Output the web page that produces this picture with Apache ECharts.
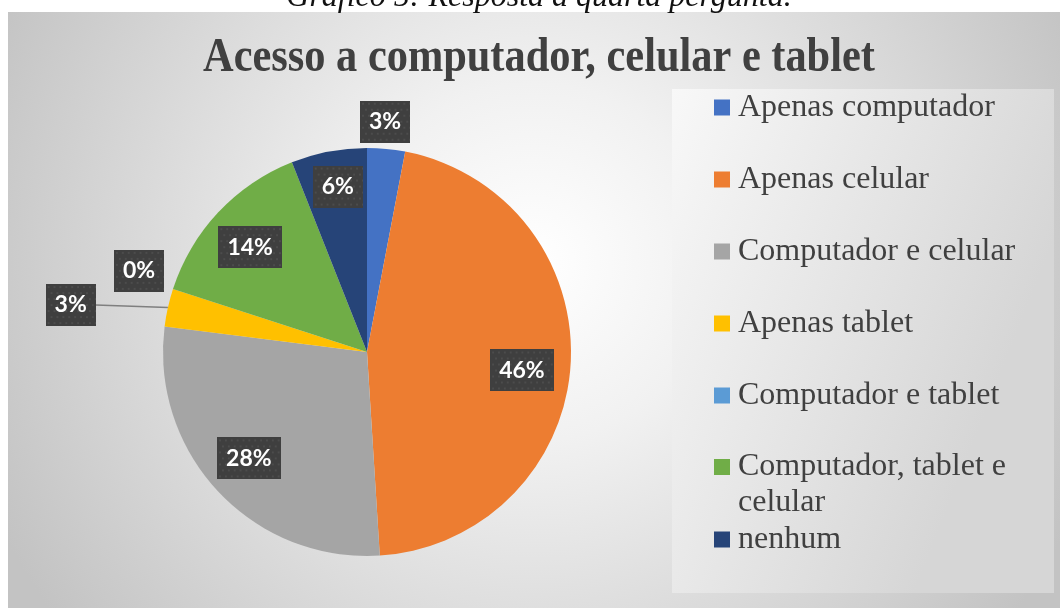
<!DOCTYPE html>
<html>
<head>
<meta charset="utf-8">
<script src="https://cdn.jsdelivr.net/npm/echarts@6/dist/echarts.min.js"></script>
<style>
  html, body { margin: 0; padding: 0; background: #fff; }
  #chart { width: 1060px; height: 609px; }
</style>
</head>
<body>
<div id="chart"></div>
<script>
// dados do gráfico
const names = ['Apenas computador', 'Apenas celular', 'Computador e celular', 'Apenas tablet',
  'Computador e tablet', 'Computador, tablet e celular', 'nenhum'];
const values = [3, 46, 28, 3, 0, 14, 6];
const colors = ['#4472C4', '#ED7D31', '#A5A5A5', '#FFC000', '#5B9BD5', '#70AD47', '#264478'];

// geometria da pizza
const CX = 367, CY = 352, R = 204;
// posição dos rótulos (distância do centro e pequeno desvio angular)
const labelDist = [231, 156, 159, 300, 242, 157, 168];
const labelTurn = [-0.9, 3.2, 1.2, -3.6, 1.6, -1.3, 0.8];

// ângulo médio de cada fatia (graus, sentido horário a partir do topo)
const total = values.reduce((a, b) => a + b, 0);
let acc = 0;
const mids = values.map(v => { const m = (acc + v / 2) / total * 360; acc += v; return m; });

// fundo pontilhado das caixas de rótulo
const makeDots = (w, h) => {
  const c = document.createElement('canvas');
  c.width = w; c.height = h;
  const ctx = c.getContext('2d');
  ctx.fillStyle = '#3f3f3f';
  ctx.fillRect(0, 0, w, h);
  ctx.fillStyle = '#4c4c4c';
  for (let y = 2, row = 0; y < h; y += 6, row++) {
    for (let x = (row % 2 ? 5 : 2); x < w; x += 6) {
      ctx.fillRect(x, y, 2, 2);
    }
  }
  return c;
};
const dotsNarrow = makeDots(51, 42);
const dotsWide = makeDots(65, 42);

const pieData = names.map((n, i) => ({
  name: n,
  value: values[i],
  itemStyle: { color: colors[i] },
  label: { backgroundColor: { image: String(values[i]).length > 1 ? dotsWide : dotsNarrow } },
  labelLine: { show: i === 3 }
}));

const legendFont = {
  fontFamily: 'Liberation Serif',
  fontSize: 32,
  color: '#404040',
  lineHeight: 36,
  padding: [0, 0, 0, 3]
};

const legendBase = {
  orient: 'vertical',
  left: 714,
  padding: 0,
  itemWidth: 16,
  itemHeight: 16,
  icon: 'rect',
  selectedMode: false,
  textStyle: legendFont
};

let chart = echarts.init(document.getElementById('chart'));

let option = {
  animation: false,
  backgroundColor: '#ffffff',
  graphic: [
    {
      type: 'rect',
      shape: { x: 8, y: 12, width: 1052, height: 596 },
      style: {
        fill: new echarts.graphic.RadialGradient(0.5, 0.42, 1.0, [
          { offset: 0, color: '#ffffff' },
          { offset: 0.3, color: '#f1f1f1' },
          { offset: 1, color: '#c3c3c3' }
        ])
      }
    },
    {
      type: 'rect',
      shape: { x: 672, y: 89, width: 382, height: 504 },
      style: {
        fill: new echarts.graphic.LinearGradient(0, 0, 1, 0.3, [
          { offset: 0, color: '#f8f8f8' },
          { offset: 1, color: '#d6d6d6' }
        ])
      }
    },
    {
      type: 'text',
      x: 539,
      y: -2,
      style: {
        text: 'Gráfico 5: Resposta à quarta pergunta.',
        font: 'italic 32px "Liberation Serif"',
        fill: '#111111',
        align: 'center',
        verticalAlign: 'middle'
      }
    },
    {
      type: 'text',
      x: 539,
      y: 58.5,
      scaleX: 0.865,
      style: {
        text: 'Acesso a computador, celular e tablet',
        font: 'bold 49px "Liberation Serif"',
        fill: '#404040',
        align: 'center',
        verticalAlign: 'middle'
      }
    }
  ],
  legend: [
    Object.assign({}, legendBase, {
      data: names.slice(0, 5),
      top: 89.5,
      itemGap: 36
    }),
    Object.assign({}, legendBase, {
      data: [names[5]],
      top: 449,
      itemHeight: 52,
      // quadrado alinhado com a primeira linha do texto
      icon: 'path://M0,0H16V16H0Z M0,51.99H0.01V52H0Z',
      formatter: () => 'Computador, tablet e\ncelular'
    }),
    Object.assign({}, legendBase, {
      data: [names[6]],
      top: 521.5
    })
  ],
  series: [
    {
      name: 'Acesso',
      type: 'pie',
      center: [CX, CY],
      radius: R,
      startAngle: 90,
      clockwise: true,
      avoidLabelOverlap: false,
      emphasis: { disabled: true },
      itemStyle: { borderWidth: 0 },
      label: {
        show: true,
        position: 'outside',
        formatter: '{c}%',
        color: '#ffffff',
        fontFamily: 'Lato',
        fontWeight: 'bold',
        fontSize: 23,
        lineHeight: 24,
        padding: [9, 9],
        shadowColor: 'rgba(0,0,0,0.45)',
        shadowBlur: 5,
        shadowOffsetX: 2,
        shadowOffsetY: 2
      },
      labelLine: {
        length: 10,
        length2: 10,
        lineStyle: { color: '#7f7f7f', width: 1.6 }
      },
      labelLayout: function (p) {
        const i = p.dataIndex;
        const a = (mids[i] + labelTurn[i]) * Math.PI / 180;
        const d = labelDist[i];
        const x = CX + Math.sin(a) * d;
        const y = CY - Math.cos(a) * d;
        const res = { x: x, y: y, align: 'center', verticalAlign: 'middle' };
        if (i === 3) {
          const m = mids[i] * Math.PI / 180;
          const ex = CX + Math.sin(m) * R, ey = CY - Math.cos(m) * R;
          const lx = x + 25;
          res.labelLinePoints = [[ex, ey], [(ex + lx) / 2, (ey + y) / 2], [lx, y]];
        }
        return res;
      },
      data: pieData
    }
  ]
};

chart.setOption(option);
</script>
</body>
</html>
